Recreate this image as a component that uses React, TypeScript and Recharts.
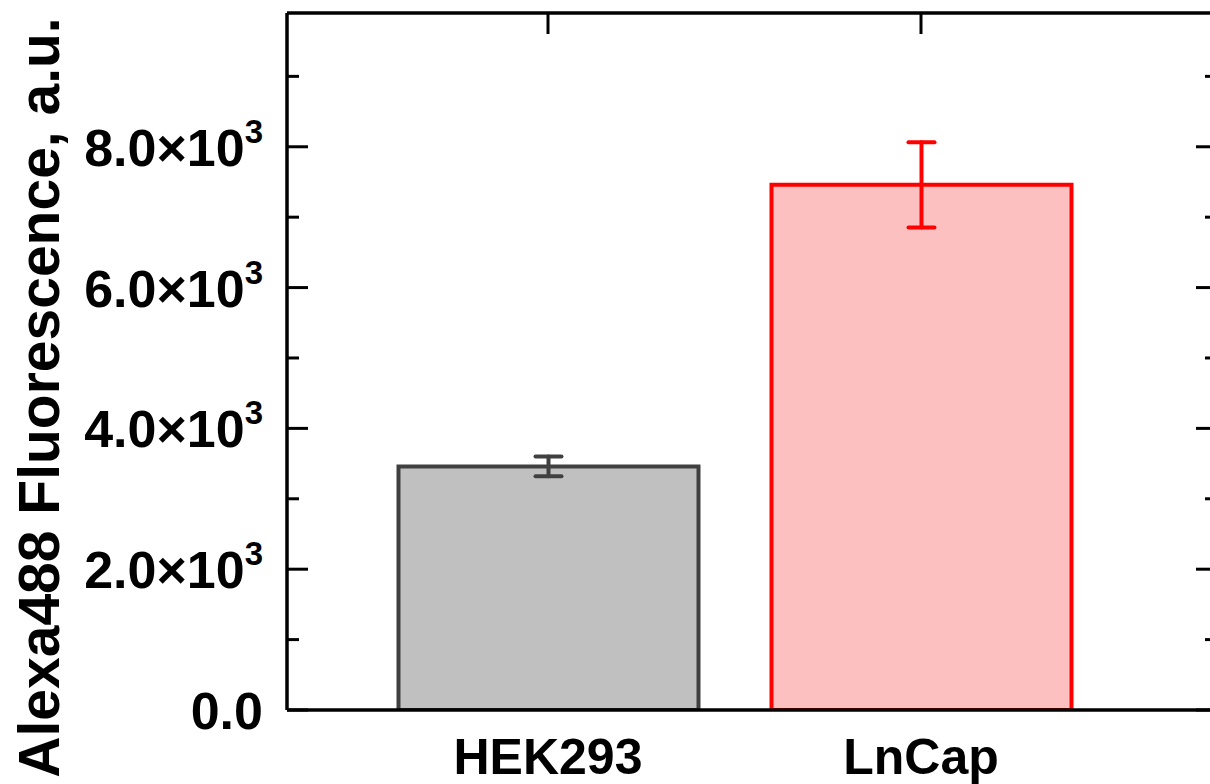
import React from 'react';
import { BarChart, Bar, XAxis, YAxis, ErrorBar, Cell } from 'recharts';

const categories = ['HEK293', 'LnCap'];
const meanValues = [3460, 7460];
const errorValues = [140, 605];
const majorTicks = [0, 2000, 4000, 6000, 8000];
const minorTicks = [1000, 3000, 5000, 7000, 9000];
const yDomain = [0, 9900];
const fillColors = ['#c0c0c0', '#fcc0c0'];
const strokeColors = ['#404040', '#ff0000'];

const data = categories.map((name, i) => ({
  name,
  value: meanValues[i],
  [`err${i}`]: errorValues[i],
}));

const FONT = '"Liberation Sans", Arial, Helvetica, sans-serif';

const YTick = (props: any) => {
  const { x, y, payload } = props;
  const v = payload.value as number;
  if (v === 0) {
    return (
      <text x={x} y={y + 19} textAnchor="end" fontFamily={FONT} fontWeight="bold" fontSize={52} fill="#000">
        0.0
      </text>
    );
  }
  return (
    <text x={x} y={y + 19} textAnchor="end" fontFamily={FONT} fontWeight="bold" fontSize={52} fill="#000">
      <tspan>{(v / 1000).toFixed(1)}×10</tspan>
      <tspan dy={-23} fontSize={33}>3</tspan>
    </text>
  );
};

const XTick = (props: any) => {
  const { x, y, payload } = props;
  return (
    <text x={x} y={y + 64} textAnchor="middle" fontFamily={FONT} fontWeight="bold" fontSize={50} fill="#000">
      {payload.value}
    </text>
  );
};

const NoTick = () => null;

const YLabel = (props: any) => {
  const { viewBox } = props;
  const cx = viewBox.x - 28;
  const cy = viewBox.y + viewBox.height / 2 + 36;
  return (
    <text
      x={cx}
      y={cy}
      transform={`rotate(-90, ${cx}, ${cy})`}
      textAnchor="middle"
      fontFamily={FONT}
      fontWeight="bold"
      fontSize={57}
      fill="#000"
    >
      Alexa488 Fluorescence, a.u.
    </text>
  );
};

const axisStroke = { stroke: '#000', strokeWidth: 3.5 };
const tickStroke = { stroke: '#000', strokeWidth: 3 };

export default function App() {
  return (
    <div style={{ position: 'fixed', left: 0, top: 0, width: 1210, height: 784, overflow: 'hidden', background: '#fff' }}>
      <BarChart width={1240} height={784} data={data} margin={{ top: 13, right: 23, bottom: 0, left: 87 }}>
        <XAxis
          xAxisId="main"
          dataKey="name"
          type="category"
          height={74}
          padding={{ left: 74.5, right: 109.5 }}
          axisLine={axisStroke}
          tickLine={false}
          tickSize={0}
          tickMargin={0}
          tick={<XTick />}
        />
        <XAxis
          xAxisId="top"
          dataKey="name"
          type="category"
          orientation="top"
          mirror
          height={1}
          padding={{ left: 74.5, right: 109.5 }}
          axisLine={axisStroke}
          tickLine={tickStroke}
          tickSize={21}
          tick={<NoTick />}
        />
        <YAxis
          yAxisId="main"
          width={200}
          domain={yDomain}
          allowDataOverflow
          ticks={majorTicks}
          interval={0}
          axisLine={axisStroke}
          tickLine={false}
          tickSize={0}
          tickMargin={24}
          tick={<YTick />}
          label={<YLabel />}
        />
        <YAxis
          yAxisId="lmajor"
          mirror
          width={1}
          domain={yDomain}
          allowDataOverflow
          ticks={majorTicks}
          interval={0}
          axisLine={false}
          tickLine={tickStroke}
          tickSize={21}
          tick={<NoTick />}
        />
        <YAxis
          yAxisId="lminor"
          mirror
          width={1}
          domain={yDomain}
          allowDataOverflow
          ticks={minorTicks}
          interval={0}
          axisLine={false}
          tickLine={tickStroke}
          tickSize={11}
          tick={<NoTick />}
        />
        <YAxis
          yAxisId="rmajor"
          orientation="right"
          mirror
          width={1}
          domain={yDomain}
          allowDataOverflow
          ticks={majorTicks}
          interval={0}
          axisLine={axisStroke}
          tickLine={tickStroke}
          tickSize={21}
          tick={<NoTick />}
        />
        <YAxis
          yAxisId="rminor"
          orientation="right"
          mirror
          width={1}
          domain={yDomain}
          allowDataOverflow
          ticks={minorTicks}
          interval={0}
          axisLine={false}
          tickLine={tickStroke}
          tickSize={11}
          tick={<NoTick />}
        />
        <Bar dataKey="value" xAxisId="main" yAxisId="main" barSize={300} strokeWidth={4} isAnimationActive={false}>
          {data.map((d, i) => (
            <Cell key={d.name} fill={fillColors[i]} stroke={strokeColors[i]} />
          ))}
          <ErrorBar dataKey="err0" width={13} stroke={strokeColors[0]} strokeWidth={4} strokeLinecap="round" />
          <ErrorBar dataKey="err1" width={13} stroke={strokeColors[1]} strokeWidth={4} strokeLinecap="round" />
        </Bar>
      </BarChart>
    </div>
  );
}
